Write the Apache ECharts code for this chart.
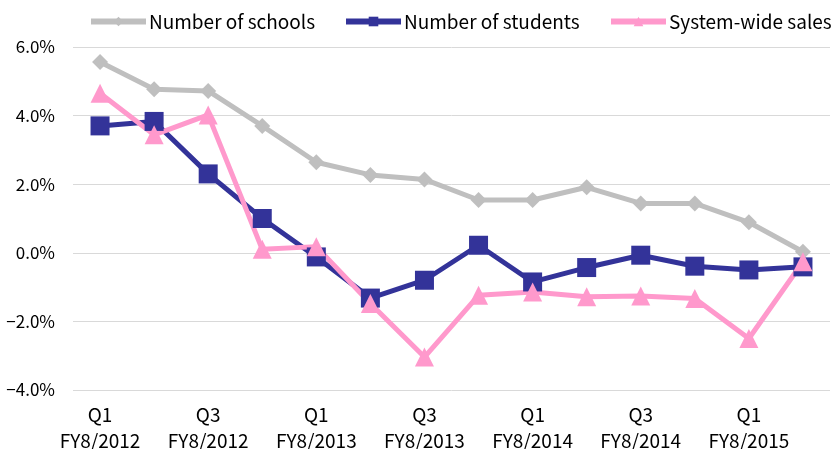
<!DOCTYPE html>
<html>
<head>
<meta charset="utf-8">
<script src="https://cdn.jsdelivr.net/npm/echarts@6/dist/echarts.min.js"></script>
<style>
  html, body { margin: 0; padding: 0; background: #fff; }
  #chart { width: 831px; height: 449px; }
</style>
</head>
<body>
<div id="chart"></div>
<script>
// quarters, Q1 FY8/2012 .. Q2 FY8/2015
const categories = [
  'Q1\nFY8/2012', 'Q2\nFY8/2012', 'Q3\nFY8/2012', 'Q4\nFY8/2012',
  'Q1\nFY8/2013', 'Q2\nFY8/2013', 'Q3\nFY8/2013', 'Q4\nFY8/2013',
  'Q1\nFY8/2014', 'Q2\nFY8/2014', 'Q3\nFY8/2014', 'Q4\nFY8/2014',
  'Q1\nFY8/2015', 'Q2\nFY8/2015'
]
const seriesNames = ['Number of schools', 'Number of students', 'System-wide sales']
// YoY change, %
const schools = [5.56, 4.77, 4.72, 3.70, 2.64, 2.27, 2.14, 1.54, 1.54, 1.91, 1.44, 1.44, 0.89, 0.03]
const students = [3.70, 3.83, 2.30, 1.00, -0.12, -1.32, -0.80, 0.22, -0.85, -0.43, -0.07, -0.39, -0.50, -0.41]
const sales = [4.65, 3.44, 4.02, 0.10, 0.18, -1.48, -3.04, -1.24, -1.14, -1.28, -1.26, -1.33, -2.50, -0.26]
const yTicks = { min: -4, max: 6, step: 2 }

const font = '"Noto Sans CJK JP", "Noto Sans", sans-serif'
const legendLeft = [83, 338, 603]

const chart = echarts.init(document.getElementById('chart'))
chart.setOption({
  animation: false,
  textStyle: { fontFamily: font },
  // one legend per item so they sit where the original puts them
  legend: seriesNames.map((name, i) => ({
    top: 7,
    left: legendLeft[i],
    itemWidth: 55,
    itemHeight: 12,
    lineStyle: { width: 6 },
    textStyle: { fontSize: 19, color: '#000', fontFamily: font, padding: [0, 0, 0, -2] },
    data: [name]
  })),
  grid: { left: 73, right: 1, top: 47, bottom: 59, outerBoundsMode: 'none', containLabel: false },
  xAxis: {
    type: 'category',
    data: categories,
    boundaryGap: true,
    axisLine: { show: false },
    axisTick: { show: false },
    axisLabel: {
      interval: 1,
      color: '#000',
      fontSize: 19,
      lineHeight: 26,
      margin: 12,
      fontFamily: font
    }
  },
  yAxis: {
    type: 'value',
    min: yTicks.min,
    max: yTicks.max,
    interval: yTicks.step,
    axisLine: { show: false },
    axisTick: { show: false },
    splitLine: { lineStyle: { color: '#d9d9d9', width: 1 } },
    axisLabel: {
      color: '#000',
      fontSize: 17,
      margin: 18,
      fontFamily: font,
      formatter: v => v.toFixed(1).replace('-', '\u2212') + '%'
    }
  },
  series: [
    {
      name: seriesNames[0],
      type: 'line',
      data: schools,
      symbol: 'diamond',
      symbolSize: 16,
      lineStyle: { color: '#bfbfbf', width: 5 },
      itemStyle: { color: '#bfbfbf' }
    },
    {
      name: seriesNames[1],
      type: 'line',
      data: students,
      symbol: 'rect',
      symbolSize: 19,
      lineStyle: { color: '#333399', width: 5 },
      itemStyle: { color: '#333399' }
    },
    {
      name: seriesNames[2],
      type: 'line',
      data: sales,
      symbol: 'triangle',
      symbolSize: 19,
      lineStyle: { color: '#ff99cc', width: 5 },
      itemStyle: { color: '#ff99cc' }
    }
  ]
})
</script>
</body>
</html>
